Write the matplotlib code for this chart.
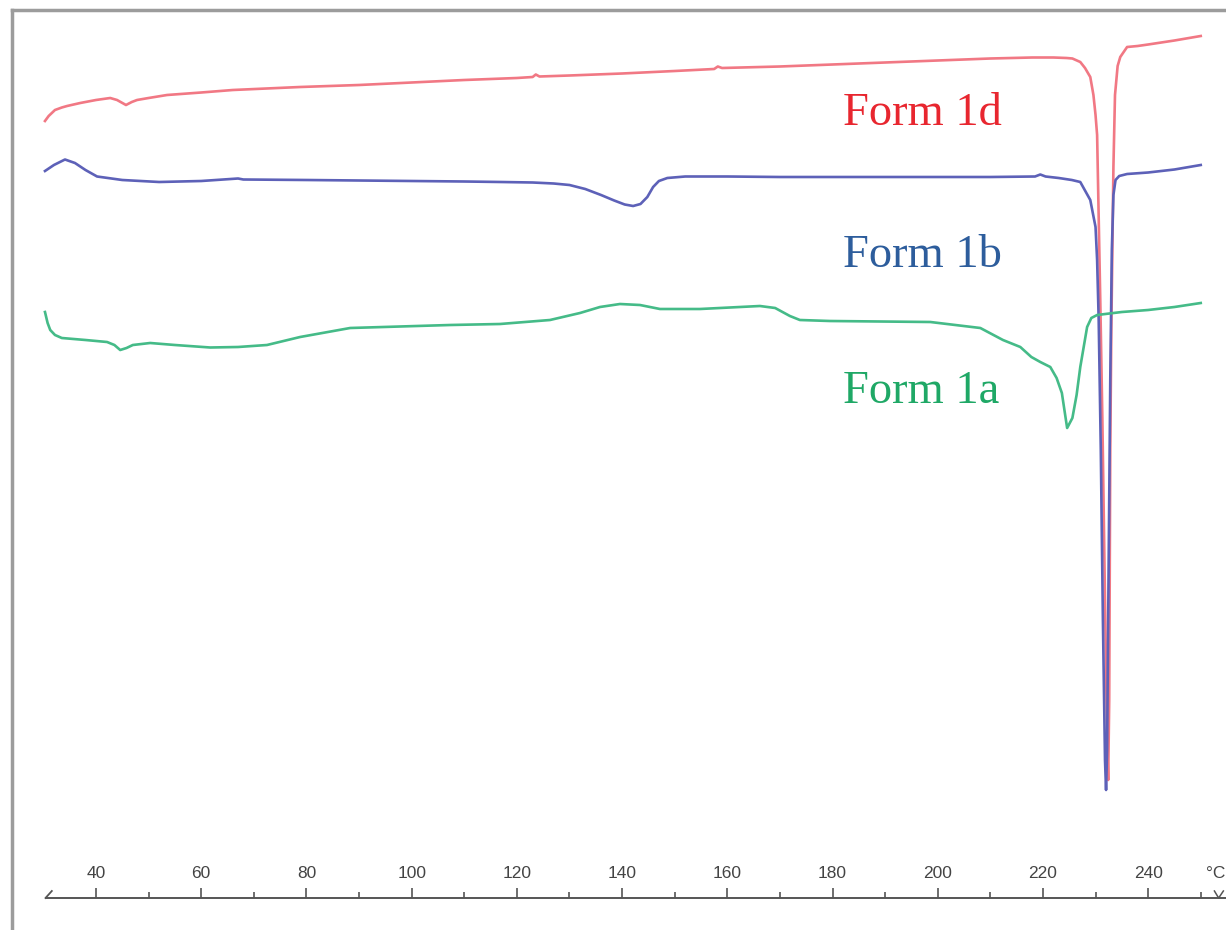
import numpy as np
import matplotlib.pyplot as plt
from matplotlib.lines import Line2D

# DSC traces, temperature in deg C, signal in arbitrary units (drawn downward = endo)
temp_1d = [30.3, 31.0, 32.2, 33.5, 34.5, 37.0, 40.0, 42.7, 44.0, 45.7, 46.8, 47.8, 50.0,
           53.5, 60.0, 66.0, 78.8, 90.0, 100.0, 110.0, 120.0, 123.0, 123.6, 124.3, 130.0,
           140.0, 150.0, 157.5, 158.2, 159.0, 170.0, 180.0, 190.0, 200.0, 210.0, 218.0,
           222.0, 224.5, 225.6, 227.1, 228.0, 229.0, 229.6, 230.0, 230.3, 230.9, 231.3,
           231.8, 232.2, 232.4, 232.6, 232.8, 233.0, 233.2, 233.4, 233.7, 234.2, 234.7,
           236.0, 238.0, 240.0, 245.0, 250.0]
sig_1d = [121, 116, 110, 107.5, 106, 103, 100, 98, 100, 105, 102, 100, 98,
          95, 92.5, 90, 87, 85, 82.5, 80, 78, 77, 74.5, 76.5, 75.5,
          73.5, 71, 69, 66.5, 68, 66.5, 64.5, 62.5, 60.5, 58.5, 57.5,
          57.5, 58, 58.5, 62, 68, 77, 95, 115, 135, 300, 420,
          600, 740, 780, 700, 450, 330, 250, 167, 95, 66, 57,
          47, 46, 44.5, 40.5, 36]

temp_1b = [30.3, 32.0, 34.1, 36.0, 38.0, 40.2, 45.0, 52.0, 60.0, 67.0, 68.0, 80.0, 90.0,
           100.0, 110.0, 117.0, 123.0, 127.0, 130.0, 133.0, 136.0, 138.5, 140.5, 142.1,
           143.5, 144.8, 145.9, 147.0, 148.6, 152.0, 160.0, 170.0, 180.0, 190.0, 200.0,
           210.0, 218.5, 219.5, 220.5, 223.0, 225.5, 227.1, 229.0, 230.0, 230.3, 230.6,
           231.0, 231.4, 231.8, 232.0, 232.2, 232.5, 232.8, 233.1, 233.4, 233.8, 234.5,
           236.0, 240.0, 245.0, 250.0]
sig_1b = [171, 165, 159.5, 163, 170, 176.5, 180, 182, 181, 178.5, 179.5, 180, 180.5,
          181, 181.5, 182, 182.5, 183.5, 185, 189, 195, 200.5, 204.5, 206,
          204, 197, 187, 181, 178, 176.5, 176.5, 177, 177, 177, 177,
          177, 176.5, 174.5, 176.5, 178, 180, 182, 200, 227, 260, 320,
          450, 620, 760, 790, 750, 560, 380, 250, 195, 180, 176,
          174, 172.5, 169.5, 165]

temp_1a = [30.3, 30.8, 31.3, 32.2, 33.5, 38.0, 42.1, 43.5, 44.6, 45.8, 47.0, 50.3, 55.0,
           61.7, 67.0, 72.5, 78.8, 88.3, 107.3, 116.8, 126.3, 132.0, 135.8, 139.6, 143.4,
           147.2, 154.8, 166.2, 169.1, 171.9, 173.8, 179.5, 198.6, 208.1, 212.4, 215.7,
           217.8, 219.5, 221.4, 222.6, 223.6, 224.6, 225.6, 226.4, 227.1, 228.4, 229.2,
           230.3, 235.0, 240.0, 245.0, 250.0]
sig_1a = [312, 323, 330, 335, 338, 340, 342, 345, 350, 348, 345, 343, 345,
          347.5, 347, 345, 337, 328, 325, 324, 320, 313, 307, 304, 305,
          309, 309, 306, 308, 316, 320, 321, 322, 328, 340, 347,
          357, 362, 367, 378, 393, 428, 418, 395, 367, 327, 318,
          315, 312, 310, 307, 303]

labels = ['Form 1d', 'Form 1b', 'Form 1a']
label_temp = 182.0
label_sig = [125, 267, 403]
line_colors = ['#f17884', '#5d61b8', '#45bb88']
text_colors = ['#e8262f', '#2d5d9c', '#1fa866']

xticks_major = np.arange(40, 241, 20)
xticks_minor = np.arange(50, 251, 20)

fig = plt.figure(figsize=(12.26, 9.30), dpi=100)
ax = fig.add_axes([0, 0, 1, 1])
ax.set_xlim(21.75, 254.8)
ax.set_ylim(930, 0)

for t, s, c in zip([temp_1d, temp_1b, temp_1a], [sig_1d, sig_1b, sig_1a], line_colors):
    ax.plot(t, s, color=c, lw=1.9, solid_joinstyle='round')

for lab, y, c in zip(labels, label_sig, text_colors):
    ax.text(label_temp, y, lab, color=c, fontsize=33.5, family='Liberation Serif',
            ha='left', va='baseline')

# temperature axis drawn as a single line with ticks pointing up
for sp in ['left', 'right', 'bottom']:
    ax.spines[sp].set_visible(False)
ax.spines['top'].set_position(('data', 898))
ax.spines['top'].set_bounds(30.4, 254.8)
ax.spines['top'].set_color('#555555')
ax.spines['top'].set_linewidth(1.4)
ax.xaxis.set_ticks_position('top')
ax.set_xticks(xticks_major)
ax.set_xticks(xticks_minor, minor=True)
ax.tick_params(axis='x', which='major', direction='out', length=7, width=1.2,
               color='#555555', labelcolor='#444444', labelsize=12.5, pad=5)
ax.tick_params(axis='x', which='minor', direction='out', length=4, width=1.2,
               color='#555555')
for lbl in ax.get_xticklabels():
    lbl.set_family('Liberation Sans')
ax.set_yticks([])
ax.text(254.6, 873, '°C', fontsize=12.5, color='#444444', family='Liberation Sans',
        ha='right', va='center')

# small end marks on the axis
ax.plot([30.4, 31.6], [898, 891], color='#555555', lw=1.3)
ax.plot([252.6, 253.4, 254.3], [891, 898, 891], color='#555555', lw=1.1)

# grey frame on the left and top
fig.add_artist(Line2D([12 / 1226, 12 / 1226], [0, 1 - 10 / 930], transform=fig.transFigure,
                      color='#9c9c9c', lw=2.5))
fig.add_artist(Line2D([12 / 1226, 1], [1 - 10 / 930, 1 - 10 / 930], transform=fig.transFigure,
                      color='#9c9c9c', lw=2.5))

fig.savefig('out.png', dpi=100, facecolor='white')
